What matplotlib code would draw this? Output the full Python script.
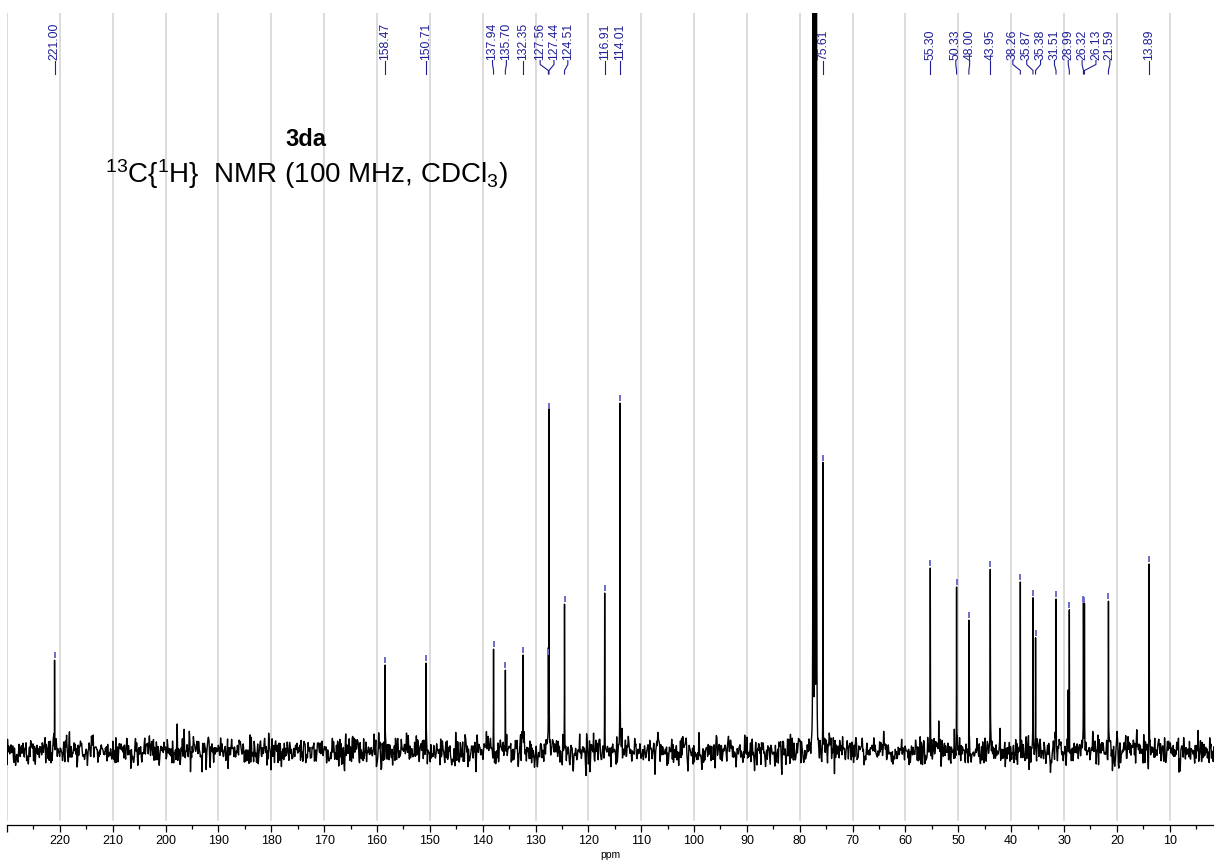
import numpy as np
import matplotlib
matplotlib.use("Agg")
import matplotlib.pyplot as plt
from matplotlib import transforms

plt.rcParams["font.family"] = ["Liberation Sans", "DejaVu Sans"]
plt.rcParams["mathtext.fontset"] = "custom"
plt.rcParams["mathtext.rm"] = "Liberation Sans"
plt.rcParams["mathtext.default"] = "regular"

# Picked 13C signals (ppm) and their intensities
peak_ppm = [221.00, 158.47, 150.71, 137.94, 135.70, 132.35, 127.56, 127.44,
            124.51, 116.91, 114.01, 75.61, 55.30, 50.33, 48.00, 43.95,
            38.26, 35.87, 35.38, 31.51, 28.99, 26.32, 26.13, 21.59, 13.89]
peak_height = [91, 86, 88, 102, 81, 96, 94, 340,
               147, 158, 348, 288, 183, 164, 131, 182,
               169, 153, 113, 152, 141, 147, 146, 150, 187]

# Small signals that were not picked
minor_ppm = [53.70, 29.25]
minor_height = [30, 60]

# CDCl3 triplet (off scale)
solvent_ppm = [77.48, 77.16, 76.84]
solvent_height = [30000, 30000, 30000]

major_ticks = list(range(230, 0, -10))
minor_ticks = list(range(225, 0, -10))

W, H = 1214, 864
fig = plt.figure(figsize=(W / 100, H / 100), dpi=100)
ax_top, ax_bot = 13, 825
ax = fig.add_axes([7 / W, 1 - ax_bot / H, 1 - 7 / W, (ax_bot - ax_top) / H])

baseline_px = 751
ax.set_xlim(230, 230 - (W - 7) / 5.285)
ax.set_ylim(-(ax_bot - baseline_px), baseline_px - ax_top)


def lorentz(x, x0, h, w):
    return h * w ** 2 / ((x - x0) ** 2 + w ** 2)


ppm = np.linspace(231.0, 1.0, 120000)

# baseline noise on the acquisition grid
rng = np.random.default_rng(11)
acq = np.linspace(231.0, 1.0, 2100)
noise_acq = rng.normal(0, 7.5, acq.size)


def noise_at(x):
    x = np.asarray(x, dtype=float)
    return np.interp(-x, -acq, noise_acq)


spec = noise_at(ppm)
# intensities are the observed maxima, so the noise under each line is taken out
for p, h in zip(peak_ppm, peak_height):
    spec += lorentz(ppm, p, h - noise_at(p), 0.02)
for p, h in zip(minor_ppm, minor_height):
    spec += lorentz(ppm, p, h - noise_at(p), 0.02)
for p, h in zip(solvent_ppm, solvent_height):
    spec += lorentz(ppm, p, h, 0.0049)

# grid
for g in major_ticks:
    ax.axvline(g, ymin=5 / (ax_bot - ax_top), ymax=1, color="#d2d2d2",
               lw=1.1, zorder=0)

ax.plot(ppm, spec, color="black", lw=1.0, zorder=2)

# peak-pick markers
mk_col = "#6c6cc8"
ax.vlines(peak_ppm, np.array(peak_height) + 2, np.array(peak_height) + 8.5,
          color=mk_col, lw=1.4, zorder=3)

# axis styling
for s in ("left", "right", "top"):
    ax.spines[s].set_visible(False)
ax.spines["bottom"].set_linewidth(0.9)
ax.set_yticks([])
ax.set_xticks(major_ticks)
ax.set_xticklabels(["" if t == 230 else str(t) for t in major_ticks])
ax.set_xticks(minor_ticks, minor=True)
ax.tick_params(axis="x", which="major", length=4.8, width=0.9, labelsize=9,
               pad=2.5, direction="out")
ax.tick_params(axis="x", which="minor", length=2.7, width=0.9, direction="out")
ax.set_xlabel("ppm", fontsize=7.5, labelpad=2)

# peak labels spread so they do not overlap
order = np.argsort(-np.array(peak_ppm))
pos = np.array(peak_ppm, dtype=float)[order]
gap = 2.62
for _ in range(5000):
    moved = False
    for i in range(len(pos) - 1):
        d = pos[i] - pos[i + 1]
        if d < gap - 1e-6:
            s = (gap - d) / 2
            pos[i] += s
            pos[i + 1] -= s
            moved = True
    if not moved:
        break
label_pos = np.empty_like(pos)
label_pos[order] = pos

lab_col = "#1e1e96"
tr = transforms.blended_transform_factory(ax.transData, fig.transFigure)


def fy(px):
    return 1 - px / H


for p, lp in zip(peak_ppm, label_pos):
    ax.plot([p, p, lp, lp], [fy(74), fy(70.5), fy(64.5), fy(60.5)],
            transform=tr, color=lab_col, lw=0.8, clip_on=False)
    ax.text(lp, fy(59.5), f"{p:.2f}", transform=tr, rotation=90,
            ha="center", va="bottom", fontsize=8.7, color=lab_col)

# compound name and experiment
fig.text(306 / W, fy(140), "3da", ha="center", va="center",
         fontsize=17, fontweight="bold")
fig.text(105 / W, fy(183), r"$^{13}$C{$^{1}$H}  NMR (100 MHz, CDCl$_{3}$)",
         ha="left", va="baseline", fontsize=20)

fig.savefig("out.png", dpi=100)
